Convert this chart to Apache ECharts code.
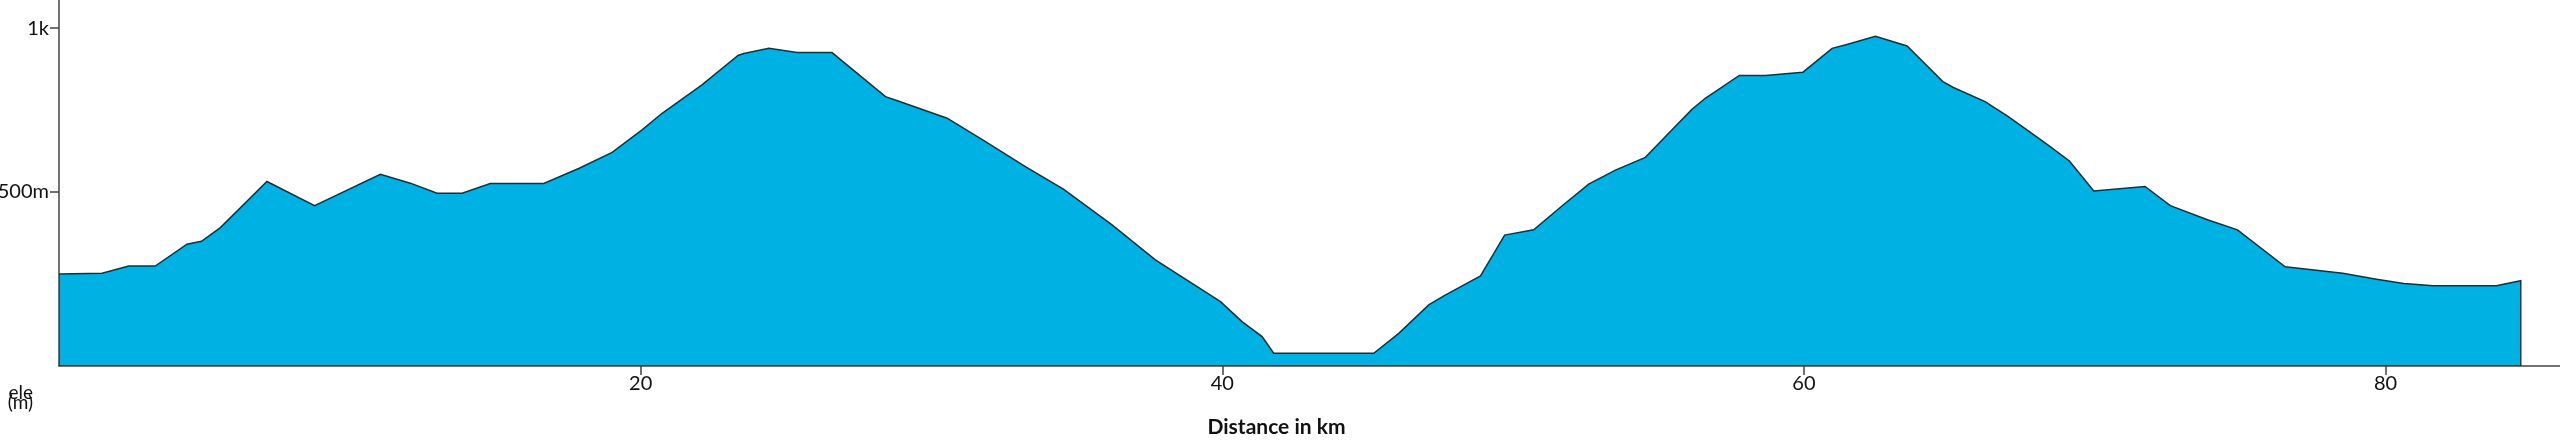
<!DOCTYPE html>
<html>
<head>
<meta charset="utf-8">
<script src="https://cdn.jsdelivr.net/npm/echarts@6/dist/echarts.min.js"></script>
<style>
  html, body { margin: 0; padding: 0; background: #ffffff; }
  #chart { width: 2560px; height: 442px; }
</style>
</head>
<body>
<div id="chart"></div>
<script>
// Distance along the route (km)
const distanceKm = [
  0, 1.48, 2.40, 3.31, 4.40, 4.90, 5.55, 7.15, 8.79, 11.05,
  12.08, 13.0, 13.86, 14.83, 16.67, 17.87, 19.02, 20.05, 20.74, 22.11,
  23.35, 23.55, 24.41, 25.38, 26.58, 28.42, 28.88, 30.54, 31.86, 33.23,
  34.55, 36.21, 37.70, 39.94, 40.68, 41.37, 41.77, 45.21, 46.07, 47.10,
  47.62, 48.88, 49.71, 50.71, 51.68, 52.60, 53.52, 54.55, 55.35, 56.15,
  56.61, 57.78, 58.68, 59.97, 60.97, 61.48, 62.46, 63.55, 64.78, 65.14,
  66.23, 67.03, 67.97, 68.47, 69.13, 69.97, 71.73, 72.60, 73.90, 74.91,
  76.55, 78.53, 79.69, 80.63, 81.64, 83.81, 84.65
];
// Elevation (m)
const elevationM = [
  247, 249, 271, 271, 338, 347, 389, 530, 456, 552,
  525, 494, 494, 524, 524, 570, 619, 688, 739, 826,
  916, 922, 938, 925, 925, 790, 776, 724, 652, 576,
  506, 397, 290, 162, 101, 55, 4, 4, 65, 152,
  180, 241, 366, 382, 455, 522, 565, 604, 678, 751,
  785, 855, 855, 865, 938, 950, 975, 945, 836, 818,
  775, 729, 669, 637, 593, 501, 515, 456, 412, 382,
  269, 249, 231, 218, 211, 211, 226
];
// Axis ticks and labels
const xTickValues = [20, 40, 60, 80];
const yTickValues = [500, 1000];
const yTickLabels = ['500m', '1k'];
const xAxisTitle = 'Distance in km';
const yAxisTitle = 'ele\n(m)';

const Y_MIN = -35, Y_MAX = 1086, X_MIN = 0, X_MAX = 86;
const FILL = '#00b2e3';
const STROKE = '#2b2b2b';
const AXIS = '#444444';
const TEXT = '#111111';
const FONT = 'Lato, "Open Sans", sans-serif';

const chart = echarts.init(document.getElementById('chart'), null, { renderer: 'canvas' });

const seriesData = distanceKm.map((d, i) => [d, elevationM[i]]);

const option = {
  animation: false,
  backgroundColor: '#ffffff',
  grid: { left: 59, right: 0, top: 0, bottom: 76, containLabel: false, outerBoundsMode: 'none' },
  xAxis: {
    type: 'value',
    min: X_MIN, max: X_MAX,
    name: xAxisTitle,
    nameLocation: 'middle',
    nameGap: 51,
    nameTextStyle: { color: TEXT, fontSize: 21, fontWeight: 'bold', fontFamily: FONT, padding: [0, 66, 0, 0] },
    axisLine: { show: true, onZero: false, lineStyle: { color: AXIS, width: 1.5 } },
    axisTick: { show: true, length: 9, customValues: xTickValues, lineStyle: { color: AXIS, width: 1.5 } },
    axisLabel: { customValues: xTickValues, color: TEXT, fontSize: 20, fontFamily: FONT, margin: 8 },
    splitLine: { show: false }
  },
  yAxis: {
    type: 'value',
    min: Y_MIN, max: Y_MAX,
    name: yAxisTitle,
    nameLocation: 'start',
    nameGap: 22,
    nameTextStyle: { color: TEXT, fontSize: 19, fontFamily: FONT, lineHeight: 10, align: 'right', verticalAlign: 'top', padding: [0, 26, 0, 0] },
    axisLine: { show: true, lineStyle: { color: AXIS, width: 1.5 } },
    axisTick: { show: true, length: 9, customValues: yTickValues, lineStyle: { color: AXIS, width: 1.5 } },
    axisLabel: {
      customValues: yTickValues,
      color: TEXT, fontSize: 20, fontFamily: FONT, margin: 10,
      formatter: (v) => {
        const idx = yTickValues.indexOf(v);
        return idx >= 0 ? yTickLabels[idx] : '';
      }
    },
    splitLine: { show: false }
  },
  series: [{
    type: 'custom',
    data: seriesData,
    encode: { x: 0, y: 1 },
    clip: true,
    silent: true,
    renderItem: (params, api) => {
      if (params.dataIndex !== 0) return null;
      const pts = distanceKm.map((d, i) => api.coord([d, elevationM[i]]));
      pts.push(api.coord([distanceKm[distanceKm.length - 1], Y_MIN]));
      pts.push(api.coord([distanceKm[0], Y_MIN]));
      return {
        type: 'polygon',
        shape: { points: pts },
        style: { fill: FILL, stroke: STROKE, lineWidth: 1.5, lineJoin: 'miter' }
      };
    }
  }]
};

chart.setOption(option);
</script>
</body>
</html>
